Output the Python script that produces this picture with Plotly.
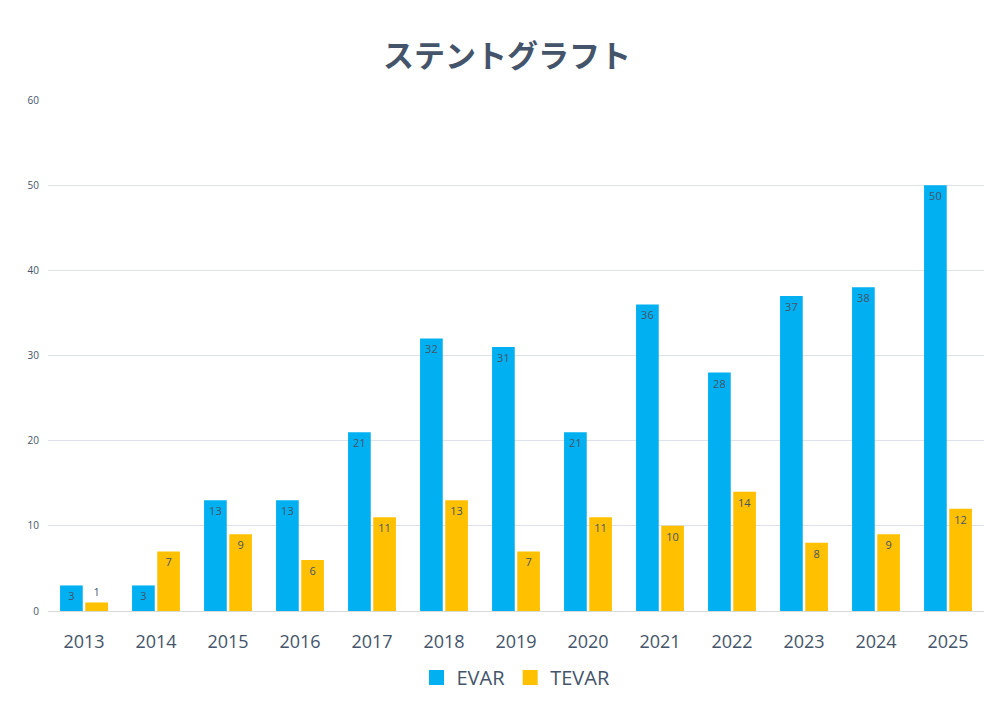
import plotly.graph_objects as go

years = ["2013", "2014", "2015", "2016", "2017", "2018", "2019", "2020", "2021", "2022", "2023", "2024", "2025"]
evar = [3, 3, 13, 13, 21, 32, 31, 21, 36, 28, 37, 38, 50]
tevar = [1, 7, 9, 6, 11, 13, 7, 11, 10, 14, 8, 9, 12]
series = [("EVAR", evar, "#00B0F0"), ("TEVAR", tevar, "#FFC000")]

txtcol = "#44546A"
fig = go.Figure()
for name, vals, col in series:
    fig.add_trace(go.Bar(x=years, y=vals, name=name, marker=dict(color=col, line=dict(width=0)),
                         text=vals, textposition="auto", insidetextanchor="end",
                         textfont=dict(size=11, color=txtcol), textangle=0, cliponaxis=False,
                         showlegend=False, legendgroup=name))
# legend entries with square swatches
for name, vals, col in series:
    fig.add_trace(go.Scatter(x=[None], y=[None], mode="markers", name=name, legendgroup=name,
                             marker=dict(symbol="square", size=15, color=col)))

fig.update_layout(
    width=1000, height=720,
    margin=dict(l=48, r=16, t=100, b=109),
    paper_bgcolor="white", plot_bgcolor="white",
    font=dict(family="Open Sans, Noto Sans, sans-serif", color=txtcol),
    title=dict(text="<b>ステントグラフト</b>", x=0.507, xanchor="center", y=0.922, yanchor="middle",
               font=dict(family="Noto Sans CJK JP", size=31, color=txtcol)),
    barmode="group", bargap=0.3, bargroupgap=0.1,
    uniformtext=dict(minsize=11, mode="show"),
    legend=dict(orientation="h", x=0.5, xanchor="center", y=-0.13, yanchor="middle",
                font=dict(size=20, color=txtcol), itemwidth=30, traceorder="normal",
                itemsizing="trace"),
    xaxis=dict(tickfont=dict(size=18, color=txtcol), showgrid=False, showline=True,
               linecolor="#D9D9D9", linewidth=1, ticks="", ticklabelstandoff=14),
    yaxis=dict(range=[0, 60], dtick=10, tickfont=dict(size=10, color=txtcol),
               gridcolor="#DDE2EA", gridwidth=1, zeroline=False, ticks="",
               ticklabelstandoff=8),
)
fig.write_html("out.html")
